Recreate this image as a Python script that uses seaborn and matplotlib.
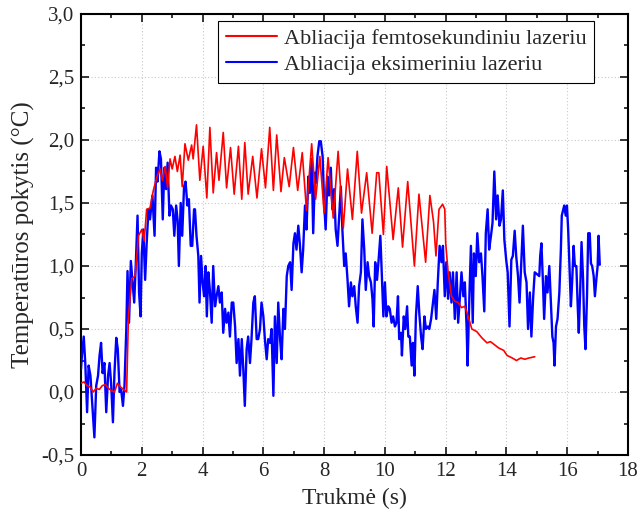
import numpy as np
import pandas as pd
import seaborn as sns
import matplotlib.pyplot as plt
from matplotlib.ticker import MultipleLocator, FuncFormatter

# Series
red_label = "Abliacija femtosekundiniu lazeriu"
blue_label = "Abliacija eksimeriniu lazeriu"

red_t = [0.0, 0.1, 0.2, 0.3, 0.4, 0.5, 0.6, 0.7, 0.8, 0.9, 1.0, 1.1, 1.2, 1.3, 1.4, 1.5,
         1.56, 1.67, 1.78, 1.89, 2.0, 2.08, 2.16, 2.27, 2.38, 2.5, 2.6, 2.68, 2.77, 2.85,
         2.93, 3.0, 3.09, 3.17, 3.26, 3.33, 3.42, 3.53, 3.64, 3.69, 3.8, 3.91, 4.02, 4.14,
         4.24, 4.35, 4.46, 4.54, 4.68, 4.79, 4.92, 5.04, 5.18, 5.29, 5.39, 5.5, 5.65, 5.79,
         5.94, 6.07, 6.21, 6.33, 6.44, 6.58, 6.69, 6.85, 6.99, 7.13, 7.28, 7.42, 7.59, 7.72,
         7.86, 8.0, 8.13, 8.3, 8.46, 8.63, 8.77, 8.93, 9.09, 9.23, 9.4, 9.58, 9.73, 9.8,
         9.95, 10.06, 10.27, 10.44, 10.58, 10.75, 10.97, 11.12, 11.34, 11.48, 11.6, 11.68,
         11.78, 11.9, 11.97, 12.0, 12.08, 12.19, 12.3, 12.41, 12.52, 12.63, 12.74, 12.86,
         13.02, 13.19, 13.36, 13.47, 13.58, 13.74, 13.91, 14.02, 14.19, 14.33, 14.47, 14.6,
         14.74, 14.93]
red_val = [0.07, 0.08, 0.05, 0.04, 0.0, 0.03, 0.02, 0.05, 0.06, 0.03, 0.01, 0.0, 0.07, 0.04, 0.02, 0.0,
           0.6, 0.9, 0.92, 1.24, 1.29, 1.2, 1.45, 1.46, 1.6, 1.71, 1.77, 1.68, 1.79, 1.62,
           1.85, 1.77, 1.87, 1.75, 1.88, 1.63, 1.97, 1.84, 1.96, 1.85, 2.12, 1.68, 1.95, 1.54,
           2.1, 1.58, 1.9, 1.68, 2.06, 1.62, 1.94, 1.57, 1.95, 1.53, 1.98, 1.57, 1.87, 1.54,
           1.93, 1.62, 2.1, 1.6, 2.04, 1.59, 1.86, 1.63, 1.94, 1.6, 1.9, 1.44, 1.97, 1.53,
           1.87, 1.42, 1.86, 1.38, 1.91, 1.3, 1.77, 1.37, 1.91, 1.42, 1.74, 1.26, 1.74, 1.74,
           1.25, 1.79, 1.21, 1.62, 1.15, 1.67, 1.0, 1.57, 1.03, 1.56, 1.35, 1.08,
           1.45, 1.49, 1.45, 1.18, 0.95, 0.76, 0.72, 0.71, 0.67, 0.68, 0.6, 0.5,
           0.48, 0.43, 0.39, 0.4, 0.38, 0.35, 0.33, 0.29, 0.27, 0.25, 0.27, 0.26,
           0.27, 0.28]

blue_t = [0.0, 0.03, 0.09, 0.14, 0.2, 0.25, 0.31, 0.36, 0.44, 0.5, 0.56, 0.61, 0.66, 0.71, 0.77,
          0.83, 0.89, 0.94, 0.99, 1.05, 1.1, 1.16, 1.21, 1.27, 1.32, 1.38, 1.43, 1.49, 1.53,
          1.58, 1.64, 1.69, 1.75, 1.8, 1.86, 1.91, 1.96, 2.0, 2.05, 2.11, 2.16, 2.22, 2.27,
          2.35, 2.42, 2.47, 2.52, 2.58, 2.63, 2.69, 2.74, 2.8, 2.85, 2.91, 2.96, 3.02, 3.07,
          3.13, 3.18, 3.22, 3.28, 3.33, 3.39, 3.44, 3.5, 3.55, 3.61, 3.66, 3.72,
          3.75, 3.8, 3.86, 3.9, 3.95, 4.0, 4.05, 4.1, 4.14, 4.19, 4.24, 4.3, 4.35, 4.41,
          4.46, 4.52, 4.57, 4.63, 4.68, 4.74, 4.79, 4.85, 4.9, 4.96, 5.01, 5.07, 5.12, 5.18,
          5.23, 5.29, 5.34, 5.39, 5.45, 5.5, 5.56, 5.61, 5.67, 5.72, 5.78, 5.83, 5.89, 5.94,
          6.0, 6.05, 6.11, 6.16, 6.22, 6.27, 6.33, 6.38, 6.44, 6.49, 6.55, 6.6, 6.66, 6.71,
          6.77, 6.82, 6.88, 6.93, 6.99, 7.04, 7.09, 7.15, 7.2, 7.26, 7.31, 7.37, 7.42, 7.48,
          7.53, 7.59, 7.64, 7.7,
          7.73, 7.78, 7.84, 7.89, 7.95, 8.0, 8.05, 8.11, 8.16, 8.22, 8.27, 8.33, 8.38, 8.44,
          8.49, 8.55, 8.6, 8.66, 8.71, 8.77, 8.82, 8.88, 8.93, 8.99, 9.04, 9.1, 9.15, 9.21,
          9.26, 9.32, 9.37, 9.43, 9.48, 9.54, 9.59, 9.63, 9.68, 9.74, 9.79, 9.85, 9.9, 9.95,
          10.0, 10.05, 10.11, 10.16, 10.22, 10.27, 10.33, 10.38, 10.43, 10.47, 10.53, 10.56,
          10.62, 10.67, 10.73, 10.77, 10.82, 10.88, 10.92, 10.97, 11.02, 11.08, 11.13, 11.19,
          11.24, 11.3, 11.35, 11.41, 11.46, 11.52,
          11.63, 11.69, 11.74, 11.8, 11.86, 11.91, 11.97, 12.02, 12.08, 12.13, 12.19, 12.24,
          12.3, 12.36, 12.41, 12.47, 12.52, 12.58, 12.63, 12.69, 12.72, 12.78, 12.83, 12.89,
          12.93, 12.99, 13.04, 13.1, 13.16, 13.21, 13.27, 13.32, 13.38, 13.43, 13.49, 13.54,
          13.6, 13.66, 13.71, 13.77, 13.82, 13.88, 13.93, 13.99, 14.04, 14.1, 14.16, 14.21,
          14.27, 14.32, 14.38, 14.43, 14.49, 14.54, 14.6, 14.66, 14.71, 14.77, 14.82, 14.88,
          14.93,
          15.08, 15.11, 15.15, 15.2, 15.24, 15.3, 15.35, 15.41, 15.46, 15.51, 15.55, 15.58,
          15.63, 15.68, 15.74, 15.79, 15.82, 15.87, 15.9, 15.95, 15.99, 16.03, 16.08, 16.12,
          16.16, 16.21, 16.25, 16.3, 16.34, 16.38, 16.43, 16.47, 16.52, 16.56, 16.6, 16.65,
          16.69, 16.74, 16.78, 16.82, 16.87, 16.91, 16.96, 17.0, 17.03, 17.07]
blue_val = [0.18, 0.29, 0.44, 0.23, -0.16, 0.21, 0.13, -0.06, -0.36, 0.05, 0.13, 0.29, 0.39, 0.15, 0.23,
            -0.16, 0.13, 0.23, 0.07, -0.24, 0.15, 0.43, 0.34, 0.0, 0.02, -0.11, 0.05, 0.5, 0.96,
            0.55, 1.04, 0.89, 0.71, 1.0, 1.4, 0.79, 0.6, 1.1, 1.29, 0.89, 1.18, 1.45, 1.37,
            1.56, 1.24, 1.78, 1.67, 1.91, 1.85, 1.37, 1.78, 1.61, 1.82, 1.4, 1.48, 1.45, 1.24,
            1.48, 1.36, 1.0, 1.5, 1.24, 1.63, 1.67, 1.48, 1.53, 1.16, 1.16, 1.45,
            1.45, 1.24, 1.08, 0.71, 1.08, 0.87, 0.76, 1.0, 0.6, 0.95, 0.81, 0.55, 1.0, 0.68,
            0.76, 0.84, 0.71, 0.79, 0.47, 0.66, 0.55, 0.63, 0.44, 0.71, 0.71, 0.52, 0.23, 0.42,
            0.13, 0.42, 0.18, -0.11, 0.34, 0.44, 0.23, 0.42, 0.71, 0.76, 0.42, 0.42, 0.5, 0.71,
            0.6, 0.42, 0.26, 0.42, 0.39, 0.5, -0.03, 0.6, 0.23, 0.71, 0.42, 0.26, 0.66, 0.5,
            0.92, 1.0, 1.03, 0.81, 1.18, 1.26, 1.13, 1.32, 1.18, 0.95, 1.13, 1.48, 1.29, 1.71,
            1.58, 1.85, 1.26, 1.74,
            1.66, 1.87, 1.99, 1.99, 1.87, 1.5, 1.29, 1.71, 1.56, 1.78, 1.45, 1.61, 1.29, 1.16,
            1.37, 1.63, 1.29, 1.0, 1.1, 0.89, 0.68, 0.87, 0.76, 0.84, 0.68, 0.55, 0.84, 0.95,
            1.37, 1.13, 0.81, 1.03, 0.92, 0.87, 0.74, 0.52, 1.03, 0.89, 1.04, 1.24, 0.92, 0.6,
            0.87, 0.6, 0.68, 0.66, 0.55, 0.6, 0.52, 0.55, 0.76, 0.42, 0.47, 0.29,
            0.6, 0.5, 0.68, 0.44, 0.44, 0.21, 0.39, 0.13, 0.6, 0.84, 0.63, 0.44,
            0.34, 0.6, 0.5, 0.52, 0.5, 0.58,
            0.81, 0.58, 0.87, 1.16, 1.03, 1.16, 0.76, 1.03, 0.74, 0.95, 0.71, 0.95,
            0.58, 0.95, 0.55, 0.76, 0.95, 0.76, 0.87, 0.5, 0.21, 0.76, 1.16, 0.55,
            1.1, 0.92, 1.26, 1.03, 1.1, 0.92, 0.64, 1.26, 1.45, 1.13, 1.24, 1.34,
            1.75, 1.37, 1.56, 1.32, 1.37, 1.6, 1.21, 1.05, 0.95, 0.52, 1.05, 1.08,
            1.28, 1.08, 0.92, 0.71, 1.05, 1.32, 0.95, 0.87, 0.5, 0.79, 0.44, 0.76,
            0.95,
            0.92, 1.08, 1.18, 0.87, 0.58, 0.92, 0.79, 1.0, 0.71, 0.44, 0.39, 0.21,
            0.52, 0.58, 0.79, 1.13, 1.4, 1.45, 1.48, 1.4, 1.48, 1.29, 0.95, 0.68,
            0.87, 1.16, 1.0, 1.0, 0.71, 0.47, 0.84, 1.19, 0.9, 0.52, 0.34, 0.76,
            1.26, 1.26, 1.02, 1.0, 0.92, 0.76, 0.9, 1.0, 1.24, 1.01]

x_ticks = [0, 2, 4, 6, 8, 10, 12, 14, 16, 18]
y_ticks = [-0.5, 0.0, 0.5, 1.0, 1.5, 2.0, 2.5, 3.0]

df = pd.concat([
    pd.DataFrame({"t": red_t, "dT": red_val, "serija": red_label}),
    pd.DataFrame({"t": blue_t, "dT": blue_val, "serija": blue_label}),
], ignore_index=True)

sns.set_theme(style="ticks")
plt.rcParams["font.family"] = ["Liberation Serif", "DejaVu Serif"]
plt.rcParams["axes.unicode_minus"] = False

fig = plt.figure(figsize=(6.44, 5.18), dpi=100)
ax = fig.add_axes([0.1258, 0.1216, 0.8494, 0.8514])

sns.lineplot(data=df, x="t", y="dT", hue="serija",
             palette={red_label: "#ff0000", blue_label: "#0000ff"},
             estimator=None, sort=False, ax=ax)

# red thinner and drawn on top, blue thicker underneath
lines = ax.get_lines()
lines[0].set_linewidth(1.2)
lines[0].set_zorder(4)
lines[1].set_linewidth(1.7)
lines[1].set_zorder(3)
for ln in lines[:2]:
    ln.set_solid_joinstyle("round")

ax.set_xlim(0, 18)
ax.set_ylim(-0.5, 3.0)
ax.set_xticks(x_ticks)
ax.set_yticks(y_ticks)
ax.xaxis.set_minor_locator(MultipleLocator(1))
ax.yaxis.set_minor_locator(MultipleLocator(0.25))
ax.yaxis.set_major_formatter(FuncFormatter(lambda v, p: f"{v:.1f}".replace(".", ",")))
ax.tick_params(which="both", direction="in", top=True, right=True, width=1.3, labelsize=15)
ax.tick_params(which="major", length=6, pad=5)
ax.tick_params(which="minor", length=3)
for s in ax.spines.values():
    s.set_linewidth(1.5)
    s.set_color("black")

ax.grid(True, which="major", linestyle=(0, (1, 2)), color="#c8c8c8", linewidth=0.8)
ax.set_axisbelow(True)

ax.set_xlabel("Trukmė (s)", fontsize=17, labelpad=5)
ax.set_ylabel("Temperatūros pokytis (°C)", fontsize=18, labelpad=4)

handles, labels = ax.get_legend_handles_labels()
leg = ax.legend(handles, labels, loc="upper right", bbox_to_anchor=(0.938, 0.985),
                fontsize=16, frameon=True, fancybox=False, framealpha=1,
                edgecolor="black", handlelength=2.3, handletextpad=0.3,
                borderpad=0.35, labelspacing=0.25, borderaxespad=0)
leg.get_frame().set_linewidth(0.8)

fig.savefig("out.png", dpi=100)
